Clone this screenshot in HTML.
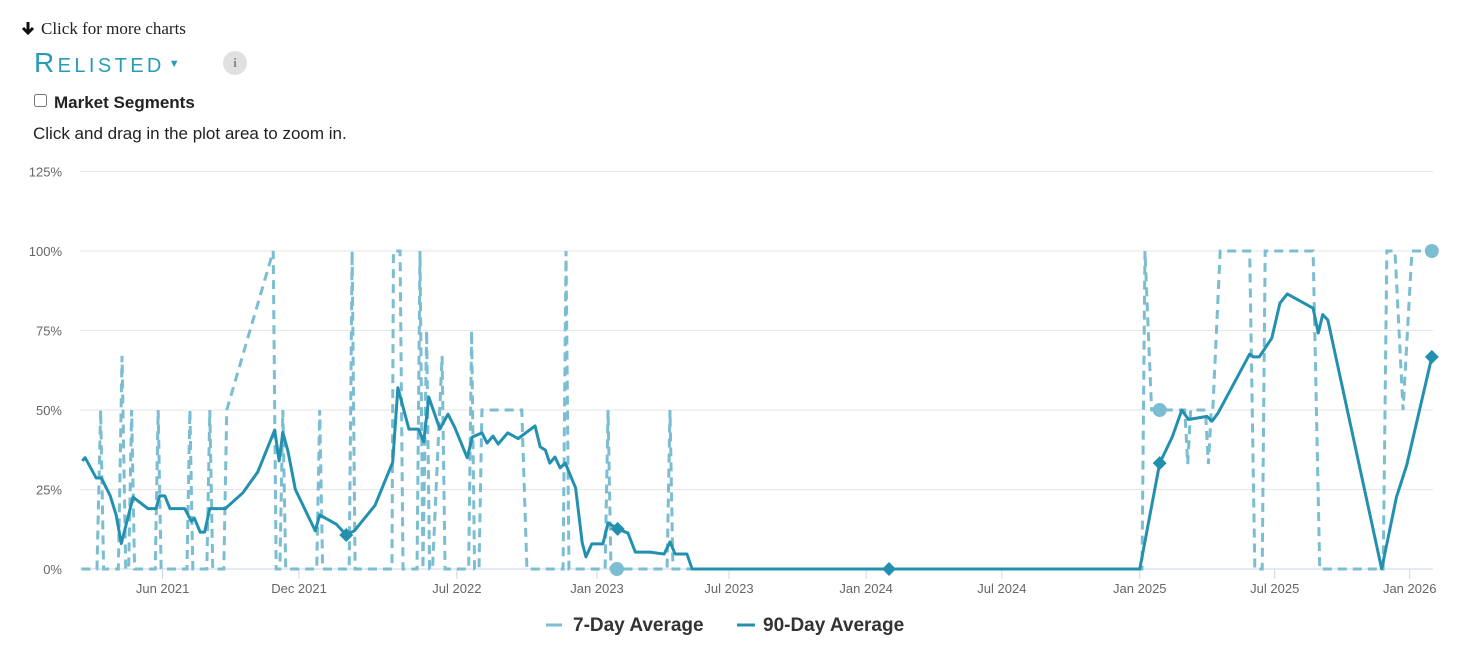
<!DOCTYPE html>
<html><head><meta charset="utf-8"><style>
body{margin:0;background:#fff;width:1468px;height:653px;overflow:hidden;font-family:"Liberation Sans",sans-serif;position:relative}
.abs{position:absolute}
</style></head><body>
<svg class="abs" style="left:21px;top:21px" width="14" height="15"><path d="M7 1 V12 M2 7 L7 12 L12 7" stroke="#111" stroke-width="3" fill="none"/></svg>
<div class="abs" style="left:41px;top:19px;font-family:'Liberation Serif',serif;font-size:17px;color:#222">Click for more charts</div>
<div class="abs" style="left:34px;top:47px;font-size:28px;color:#2a9bb7;font-variant:small-caps;letter-spacing:3.4px;white-space:nowrap">Relisted<span style="font-size:11px;vertical-align:5px;margin-left:4px">&#9660;</span></div>
<div class="abs" style="left:223px;top:51px;width:24px;height:24px;border-radius:12px;background:#e0e0e0;color:#888;font-size:13px;text-align:center;line-height:24px;font-family:'Liberation Serif',serif;font-weight:bold">i</div>
<input class="abs" type="checkbox" style="left:34px;top:94px;margin:0;width:13px;height:13px">
<div class="abs" style="left:54px;top:93px;font-size:17px;font-weight:bold;color:#222">Market Segments</div>
<div class="abs" style="left:33px;top:124px;font-size:17px;color:#222">Click and drag in the plot area to zoom in.</div>
<svg id="chart" class="abs" style="left:0;top:0" width="1468" height="653"></svg>
<script>
const yTicks=[0,25,50,75,100,125];
const xTickLabels=["Jun 2021","Dec 2021","Jul 2022","Jan 2023","Jul 2023","Jan 2024","Jul 2024","Jan 2025","Jul 2025","Jan 2026"];
const xTickDays=[110,295,509,699,878,1064,1248,1435,1618,1801];
const avg90Days=[1,5,20,27,39,47,54,70,90,101,106,113,120,140,149,153,161,167,174,195,219,239,262,268,273,280,290,317,323,346,359,370,398,422,429,444,457,464,471,486,497,506,523,530,543,550,558,565,578,592,615,622,629,635,642,649,656,670,679,684,692,707,714,727,741,751,771,790,798,805,821,828,1095,1435,1462,1479,1492,1501,1526,1533,1541,1584,1589,1597,1614,1625,1635,1670,1677,1683,1690,1763,1783,1797,1831];
const avg90Vals=[34,35,28.6,28.6,23,17,8,22.6,19,19,23,23,19,19,15,16,11.6,11.6,19,19,24,30.5,43.7,34,43,37,25,12,17,14,10.7,12,20,33.6,57,44,44,40,54,44,48.7,44.6,35,41.5,42.8,39.6,41.8,39.3,42.8,41,45,38.4,37.4,33.3,35.2,31.8,33.3,25.5,8.2,3.8,7.9,7.9,14.5,12.6,11.3,5.3,5.3,4.7,8.5,4.7,4.7,0,0,0,33.3,41.5,50,47,48,46.5,49,67.6,66.7,66.7,72.6,83.6,86.5,82,74.2,80,78.3,0,22.6,32.7,66.7];
const avg7Days=[0,21,26,30,50,55,60,64,68,72,100,104,108,143,147,151,170,174,178,193,197,260,264,269,273,277,319,323,327,363,367,371,421,423,432,436,455,459,463,468,472,476,489,493,497,525,529,533,539,543,547,552,556,597,604,653,657,661,710,714,718,794,798,802,1438,1442,1451,1496,1500,1504,1524,1528,1532,1534,1544,1548,1584,1591,1601,1605,1670,1679,1765,1770,1781,1792,1804,1833];
const avg7Vals=[0,0,50,0,0,67,0,0,50,0,0,50,0,0,50,0,0,50,0,0,50,100,0,0,50,0,0,50,0,0,100,0,0,100,100,0,0,100,0,75,0,0,67,0,0,0,75,0,0,50,50,50,50,50,0,0,100,0,0,50,0,0,50,0,0,100,50,50,33,50,50,33,50,50,100,100,100,0,0,100,100,0,0,100,100,50,100,100];
const mark7=[[726,0],[1462,50],[1831,100]];
const mark90=[[359,10.7],[727,12.6],[1095,0],[1462,33.3],[1831,66.7]];
const svg=document.getElementById('chart');const NS='http://www.w3.org/2000/svg';
const X=d=>80+(d+2)*0.7375, Y=v=>569-v*3.18;
function el(t,a,p){const e=document.createElementNS(NS,t);for(const k in a)e.setAttribute(k,a[k]);(p||svg).appendChild(e);return e;}
yTicks.forEach(v=>{
 const g=el('line',{x1:80,x2:1433,y1:Y(v),y2:Y(v),stroke:v?'#e6e6e6':'#ccd6eb','stroke-width':1});
 
 
 const t=el('text',{x:62,y:Y(v)+5,'text-anchor':'end','font-size':13,fill:'#666','font-family':'Liberation Sans'});t.textContent=v+'%';
 
 
});
xTickLabels.forEach((s,i)=>{
 const x=X(xTickDays[i]);
 el('line',{x1:x,x2:x,y1:569,y2:579,stroke:'#ccd6eb'});
 const t=el('text',{x:x,y:593,'text-anchor':'middle','font-size':13,fill:'#666','font-family':'Liberation Sans'});t.textContent=s;
 
 
});
const p7=el('polyline',{points:avg7Days.map((d,i)=>X(d)+','+Y(avg7Vals[i])).join(' '),fill:'none',stroke:'#7bbdd1','stroke-width':3,'stroke-dasharray':'9,6'});


const p90=el('polyline',{points:avg90Days.map((d,i)=>X(d)+','+Y(avg90Vals[i])).join(' '),fill:'none',stroke:'#2490b0','stroke-width':3,'stroke-linejoin':'round'});


mark7.forEach(m=>{const c=el('circle',{cx:X(m[0]),cy:Y(m[1]),r:7,fill:'#7bbdd1'});
 
 });
mark90.forEach(m=>{const x=X(m[0]),y=Y(m[1]);const c=el('polygon',{points:`${x},${y-7} ${x+7},${y} ${x},${y+7} ${x-7},${y}`,fill:'#2490b0'});
 
 });
const l1=el('line',{x1:546,x2:562,y1:625,y2:625,stroke:'#7bbdd1','stroke-width':3});


const t1=el('text',{x:573,y:631,'font-size':19,'font-weight':'bold',fill:'#333','font-family':'Liberation Sans'});t1.textContent='7-Day Average';


const l2=el('line',{x1:737,x2:755,y1:625,y2:625,stroke:'#2490b0','stroke-width':3});


const t2=el('text',{x:763,y:631,'font-size':19,'font-weight':'bold',fill:'#333','font-family':'Liberation Sans'});t2.textContent='90-Day Average';


</script>
</body></html>
